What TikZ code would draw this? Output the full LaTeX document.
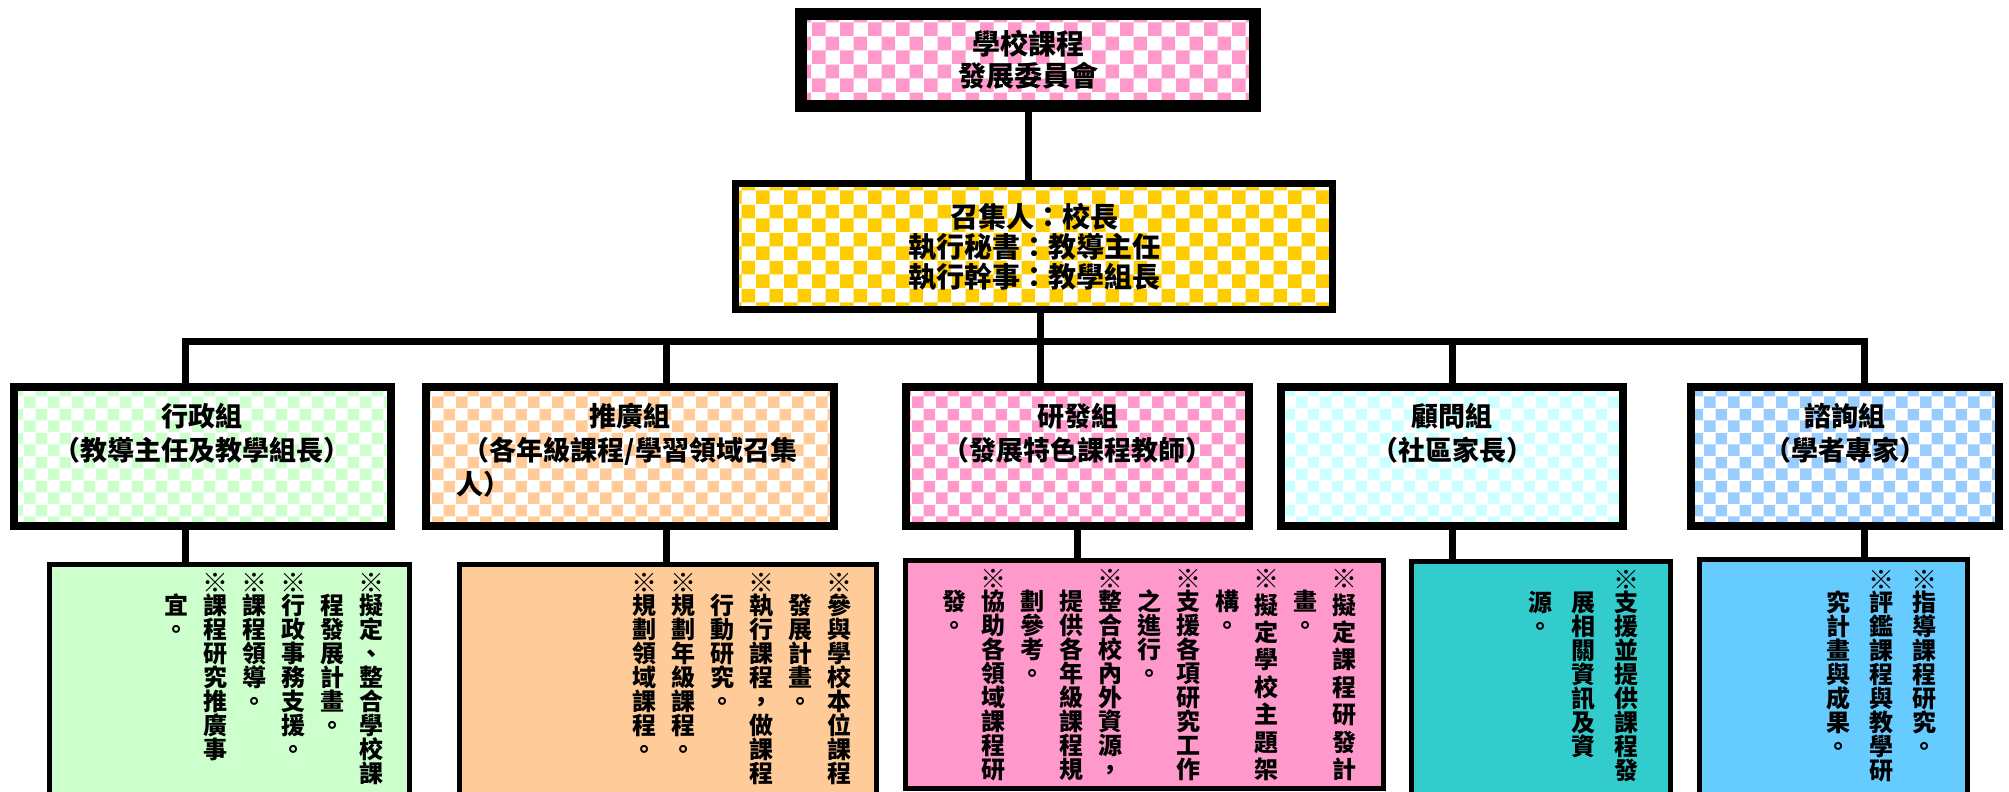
\documentclass[tikz,border=0pt]{standalone}
\usepackage{fontspec}
\setmainfont{Noto Sans CJK TC}
\usetikzlibrary{patterns,positioning}
\TeXXeTstate=1

\definecolor{rosecheck}{HTML}{FF99CC}
\definecolor{goldcheck}{HTML}{FFCC00}
\definecolor{mintcheck}{HTML}{CCFFCC}
\definecolor{peachcheck}{HTML}{FFCC99}
\definecolor{icecheck}{HTML}{CCFFFF}
\definecolor{skycheck}{HTML}{99CCFF}
\definecolor{tealfill}{HTML}{33CCCC}
\definecolor{bluefill}{HTML}{66CCFF}

% checkered fills
\pgfdeclarepatternformonly{bigchecks}{\pgfqpoint{0pt}{0pt}}{\pgfqpoint{14pt}{14pt}}{\pgfqpoint{14pt}{14pt}}{%
  \pgfpathrectangle{\pgfqpoint{0pt}{0pt}}{\pgfqpoint{7pt}{7pt}}%
  \pgfpathrectangle{\pgfqpoint{7pt}{7pt}}{\pgfqpoint{7pt}{7pt}}%
  \pgfusepath{fill}}
\pgfdeclarepatternformonly{checks}{\pgfqpoint{0pt}{0pt}}{\pgfqpoint{12pt}{12pt}}{\pgfqpoint{12pt}{12pt}}{%
  \pgfpathrectangle{\pgfqpoint{0pt}{0pt}}{\pgfqpoint{6pt}{6pt}}%
  \pgfpathrectangle{\pgfqpoint{6pt}{6pt}}{\pgfqpoint{6pt}{6pt}}%
  \pgfusepath{fill}}

% one column of vertical text, the reference mark set a little larger
\newlength\colgap
\setlength\colgap{7.5pt}
\def\refmark{※}
\makeatletter
\newcommand\vcol[2][12pt]{\vtop{\baselineskip=#1\lineskiplimit=-\maxdimen
  \@tfor\vch:=#2\do{\hbox to 1em{\hss
    \ifx\vch\refmark\raisebox{-1pt}{\fontsize{13pt}{13pt}\selectfont ※}\else\vch\fi\hss}}}%
  \hskip\colgap\ignorespaces}
\makeatother

\begin{document}
\begin{tikzpicture}[x=0.5pt, y=-0.5pt,
  link/.style={line width=3.5pt},
  topbox/.style={draw, line width=6pt, pattern=bigchecks, align=center,
    font=\bfseries\fontsize{14pt}{16pt}\selectfont},
  chairbox/.style={draw, line width=3.5pt, pattern=bigchecks, pattern color=goldcheck,
    align=center, font=\bfseries\fontsize{14pt}{15pt}\selectfont},
  teambox/.style={draw, line width=4pt, pattern=checks, minimum height=69.5pt},
  teamtext/.style={inner sep=0pt, align=center,
    font=\bfseries\fontsize{13.5pt}{17pt}\selectfont},
  dutybox/.style={draw, line width=2.5pt, minimum height=132.5pt},
  dutytext/.style={inner sep=0pt, font=\bfseries\fontsize{12pt}{12pt}\selectfont},
  wide cols/.style={execute at begin node={\setlength\colgap{9.5pt}}}]
  \useasboundingbox (0,0) rectangle (2009,792);

  % committee and convener
  \node[topbox, pattern color=rosecheck, minimum width=227pt, minimum height=46pt]
    (committee) at (1028,60) {學校課程\\發展委員會};
  \node[chairbox, minimum width=298.5pt, minimum height=63pt]
    (chair) at (1034,246.5) {召集人：校長\\執行秘書：教導主任\\執行幹事：教學組長};

  % the five groups
  \node[teambox, pattern color=mintcheck, minimum width=188.5pt] (admin) at (202.5,456.5) {};
  \node[teambox, pattern color=peachcheck, minimum width=204pt] (promo) at (630,456.5) {};
  \node[teambox, pattern color=rosecheck, minimum width=171.5pt] (rnd) at (1077.5,456.5) {};
  \node[teambox, pattern color=icecheck, minimum width=171pt] (advisor) at (1452,456.5) {};
  \node[teambox, pattern color=skycheck, minimum width=154pt] (consult) at (1845,456.5) {};

  \node[teamtext, below=10pt of admin.north] (admin-name) {行政組\\（教導主任及教學組長）};
  \node[teamtext, below=10pt of promo.north] (promo-name)
    {推廣組\\（各年級課程/學習領域召集\\\makebox[174pt][l]{人）}};
  \node[teamtext, below=10pt of rnd.north] (rnd-name) {研發組\\（發展特色課程教師）};
  \node[teamtext, below=10pt of advisor.north] (advisor-name) {顧問組\\（社區家長）};
  \node[teamtext, below=10pt of consult.north] (consult-name) {諮詢組\\（學者專家）};

  % duties of each group
  \node[dutybox, fill=mintcheck, minimum width=180pt] (admin-duty) at (229.5,697) {};
  \node[dutybox, fill=peachcheck, minimum width=208.5pt] (promo-duty) at (668,697) {};
  \node[dutybox, fill=rosecheck, minimum width=239pt, minimum height=114pt] (rnd-duty) at (1144.5,674.5) {};
  \node[dutybox, fill=tealfill, minimum width=129.5pt] (advisor-duty) at (1541,694) {};
  \node[dutybox, fill=bluefill, minimum width=134pt] (consult-duty) at (1833.5,692) {};

  \node[dutytext, below left=5.5pt and 14pt of admin-duty.north east] (admin-list) {\beginR
    \vcol{※擬定、整合學校課}
    \vcol{　程發展計畫。}
    \vcol{※行政事務支援。}
    \vcol{※課程領導。}
    \vcol{※課程研究推廣事}
    \vcol{　宜。}\endR};
  \node[dutytext, below left=5.5pt and 13.5pt of promo-duty.north east] (promo-list) {\beginR
    \vcol{※參與學校本位課程}
    \vcol{　發展計畫。}
    \vcol{※執行課程，做課程}
    \vcol{　行動研究。}
    \vcol{※規劃年級課程。}
    \vcol{※規劃領域課程。}\endR};
  \node[dutytext, below left=5.5pt and 14.5pt of rnd-duty.north east] (rnd-list) {\beginR
    \vcol[13.7pt]{※擬定課程研發計}
    \vcol{　畫。}
    \vcol[13.7pt]{※擬定學校主題架}
    \vcol{　構。}
    \vcol{※支援各項研究工作}
    \vcol{　之進行。}
    \vcol{※整合校內外資源，}
    \vcol{　提供各年級課程規}
    \vcol{　劃參考。}
    \vcol{※協助各領域課程研}
    \vcol{　發。}\endR};
  \node[dutytext, wide cols, below left=5.5pt and 17pt of advisor-duty.north east] (advisor-list) {\beginR
    \vcol{※支援並提供課程發}
    \vcol{　展相關資訊及資}
    \vcol{　源。}\endR};
  \node[dutytext, wide cols, below left=6.5pt and 16.5pt of consult-duty.north east] (consult-list) {\beginR
    \vcol{※指導課程研究。}
    \vcol{※評鑑課程與教學研}
    \vcol{　究計畫與成果。}\endR};

  % connectors
  \coordinate (d1) at (185,341);
  \coordinate (d2) at (666,341);
  \coordinate (d3) at (1040,341);
  \coordinate (d4) at (1452,341);
  \coordinate (d5) at (1864,341);
  \draw[link] (committee.south) -- (committee.south |- chair.north);
  \draw[link] (d3 |- chair.south) -- (d3);
  \draw[link, line join=miter] (d1 |- admin.north) -- (d1) -- (d5) -- (d5 |- consult.north);
  \draw[link] (d2) -- (d2 |- promo.north);
  \draw[link] (d3) -- (d3 |- rnd.north);
  \draw[link] (d4) -- (d4 |- advisor.north);
  \foreach \d/\up/\low in {d1/admin/admin-duty, d2/promo/promo-duty,
      d4/advisor/advisor-duty, d5/consult/consult-duty}
    \draw[link] (\d |- \up.south) -- (\d |- \low.north);
  \draw[link] (rnd.south) -- (rnd.south |- rnd-duty.north);
\end{tikzpicture}
\end{document}
